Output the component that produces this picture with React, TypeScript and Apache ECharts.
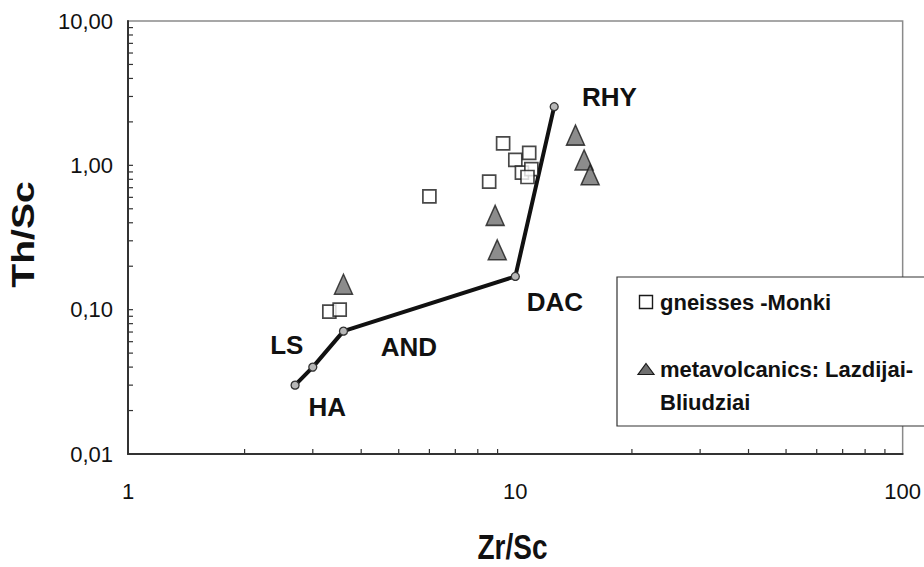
import React, { useEffect, useRef } from "react";
import * as echarts from "echarts";

// Zr/Sc vs Th/Sc
const trendLine: number[][] = [
  [2.7, 0.03],
  [3.0, 0.04],
  [3.6, 0.071],
  [10.0, 0.17],
  [12.6, 2.55],
];
const gneisses: number[][] = [
  [6.0, 0.61],
  [8.56, 0.77],
  [9.3, 1.42],
  [10.0, 1.09],
  [10.86, 1.22],
  [10.4, 0.89],
  [11.0, 0.94],
  [10.75, 0.83],
  [3.31, 0.097],
  [3.52, 0.1],
];
const metavolcanics: number[][] = [
  [3.6, 0.15],
  [8.87, 0.45],
  [8.98, 0.26],
  [14.3, 1.62],
  [15.05, 1.09],
  [15.6, 0.86],
];
const fieldLabels: { name: string; value: number[] }[] = [
  { name: "RHY", value: [17.5, 2.98] },
  { name: "DAC", value: [12.65, 0.113] },
  { name: "AND", value: [5.31, 0.055] },
  { name: "LS", value: [2.57, 0.057] },
  { name: "HA", value: [3.27, 0.021] },
];
const xTicks: number[] = [2, 3, 4, 5, 6, 7, 8, 9, 20, 30, 40, 50, 60, 70, 80, 90];
const yTicks: number[] = [
  0.02, 0.03, 0.04, 0.05, 0.06, 0.07, 0.08, 0.09, 0.1,
  0.2, 0.3, 0.4, 0.5, 0.6, 0.7, 0.8, 0.9, 1,
  2, 3, 4, 5, 6, 7, 8, 9,
];
const X_MIN = 1, X_MAX = 100, Y_MIN = 0.01, Y_MAX = 10;

const FONT = '"Liberation Sans", Arial, Helvetica, sans-serif';

export default function App() {
  const ref = useRef<HTMLDivElement>(null);
  useEffect(() => {
    if (!ref.current) return;
    const chart = echarts.init(ref.current, undefined, { renderer: "svg" });
    const option: any = {
      animation: false,
      backgroundColor: "#ffffff",
      textStyle: { fontFamily: FONT },
      grid: {
        left: 128,
        top: 21,
        right: 21,
        bottom: 113,
        show: true,
        borderColor: "#8a8a8a",
        borderWidth: 1.5,
        backgroundColor: "transparent",
      },
      xAxis: {
        type: "log",
        logBase: 10,
        min: X_MIN,
        max: X_MAX,
        axisLine: { show: true, lineStyle: { color: "#333", width: 2 } },
        axisTick: { show: false },
        splitLine: { show: false },
        axisLabel: {
          color: "#111",
          fontSize: 22,
          fontFamily: FONT,
          margin: 26,
          formatter: (v: number) => String(Math.round(v)),
        },
      },
      yAxis: {
        type: "log",
        logBase: 10,
        min: Y_MIN,
        max: Y_MAX,
        axisLine: { show: true, lineStyle: { color: "#333", width: 2 } },
        axisTick: { show: false },
        splitLine: { show: false },
        axisLabel: {
          color: "#111",
          fontSize: 22,
          fontFamily: FONT,
          margin: 15,
          formatter: (v: number) => v.toFixed(2).replace(".", ","),
        },
      },
      series: [
        {
          type: "custom",
          name: "xticks",
          silent: true,
          data: xTicks.map((v) => [v]),
          renderItem: (params: any, api: any) => {
            const p = api.coord([api.value(0), Y_MIN]);
            return {
              type: "line",
              shape: { x1: p[0], y1: p[1], x2: p[0], y2: p[1] - 5 },
              style: { stroke: "#333", lineWidth: 1.2 },
            };
          },
        },
        {
          type: "custom",
          name: "yticks",
          silent: true,
          data: yTicks.map((v) => [X_MIN, v]),
          renderItem: (params: any, api: any) => {
            const p = api.coord([X_MIN, api.value(1)]);
            return {
              type: "line",
              shape: { x1: p[0], y1: p[1], x2: p[0] + 5, y2: p[1] },
              style: { stroke: "#333", lineWidth: 1.2 },
            };
          },
        },
        {
          type: "line",
          name: "fields",
          data: trendLine,
          lineStyle: { color: "#111", width: 4 },
          symbol: "circle",
          symbolSize: 8,
          itemStyle: { color: "#b8b8b8", borderColor: "#333", borderWidth: 1.3 },
          z: 3,
        },
        {
          type: "scatter",
          name: "gneisses -Monki",
          data: gneisses,
          symbol: "rect",
          symbolSize: 13,
          itemStyle: { color: "#ffffff", borderColor: "#1a1a1a", borderWidth: 1.7 },
          z: 4,
        },
        {
          type: "scatter",
          name: "metavolcanics: Lazdijai-Bliudziai",
          data: metavolcanics,
          symbol: "triangle",
          symbolSize: [18, 20],
          itemStyle: { color: "#6f6f6f", borderColor: "#1a1a1a", borderWidth: 1.5 },
          z: 4,
        },
        {
          type: "scatter",
          name: "field labels",
          data: fieldLabels,
          symbolSize: 1,
          silent: true,
          itemStyle: { opacity: 0 },
          label: {
            show: true,
            position: "inside",
            formatter: (p: any) => p.name,
            color: "#111",
            opacity: 1,
            textBorderWidth: 0,
            fontSize: 26,
            fontWeight: "bold",
            fontFamily: FONT,
          },
          z: 5,
        },
      ],
      graphic: [
        {
          type: "rect",
          shape: { x: 617, y: 277, width: 340, height: 149 },
          style: { fill: "#ffffff", stroke: "#333", lineWidth: 1.2 },
          z: 10,
        },
        {
          type: "rect",
          shape: { x: 639.5, y: 295.5, width: 13, height: 13 },
          style: { fill: "#ffffff", stroke: "#1a1a1a", lineWidth: 1.4 },
          z: 11,
        },
        {
          type: "polygon",
          shape: { points: [[646, 363.5], [654, 374.5], [638, 374.5]] },
          style: { fill: "#6f6f6f", stroke: "#1a1a1a", lineWidth: 1.2 },
          z: 11,
        },
        {
          type: "text",
          x: 660,
          y: 302,
          style: {
            text: "gneisses -Monki",
            fill: "#111",
            font: `bold 22px ${FONT}`,
            align: "left",
            verticalAlign: "middle",
            textAlign: "left",
            textVerticalAlign: "middle",
          },
          z: 11,
        },
        {
          type: "text",
          x: 660,
          y: 369,
          style: {
            text: "metavolcanics: Lazdijai-",
            fill: "#111",
            font: `bold 22px ${FONT}`,
            align: "left",
            verticalAlign: "middle",
            textAlign: "left",
            textVerticalAlign: "middle",
          },
          z: 11,
        },
        {
          type: "text",
          x: 660,
          y: 402,
          style: {
            text: "Bliudziai",
            fill: "#111",
            font: `bold 22px ${FONT}`,
            align: "left",
            verticalAlign: "middle",
            textAlign: "left",
            textVerticalAlign: "middle",
          },
          z: 11,
        },
        {
          type: "text",
          x: 23,
          y: 234.5,
          rotation: Math.PI / 2,
          scaleX: 1.26,
          style: {
            text: "Th/Sc",
            fill: "#111",
            font: `bold 31px ${FONT}`,
            align: "center",
            verticalAlign: "middle",
            textAlign: "center",
            textVerticalAlign: "middle",
          },
          z: 11,
        },
        {
          type: "text",
          x: 512.5,
          y: 548,
          scaleY: 1.22,
          style: {
            text: "Zr/Sc",
            fill: "#111",
            font: `bold 28px ${FONT}`,
            align: "center",
            verticalAlign: "middle",
            textAlign: "center",
            textVerticalAlign: "middle",
          },
          z: 11,
        },
      ],
    };
    chart.setOption(option);
    return () => chart.dispose();
  }, []);
  return (
    <div
      ref={ref}
      style={{ position: "fixed", left: 0, top: 0, width: 924, height: 567, background: "#fff" }}
    />
  );
}
